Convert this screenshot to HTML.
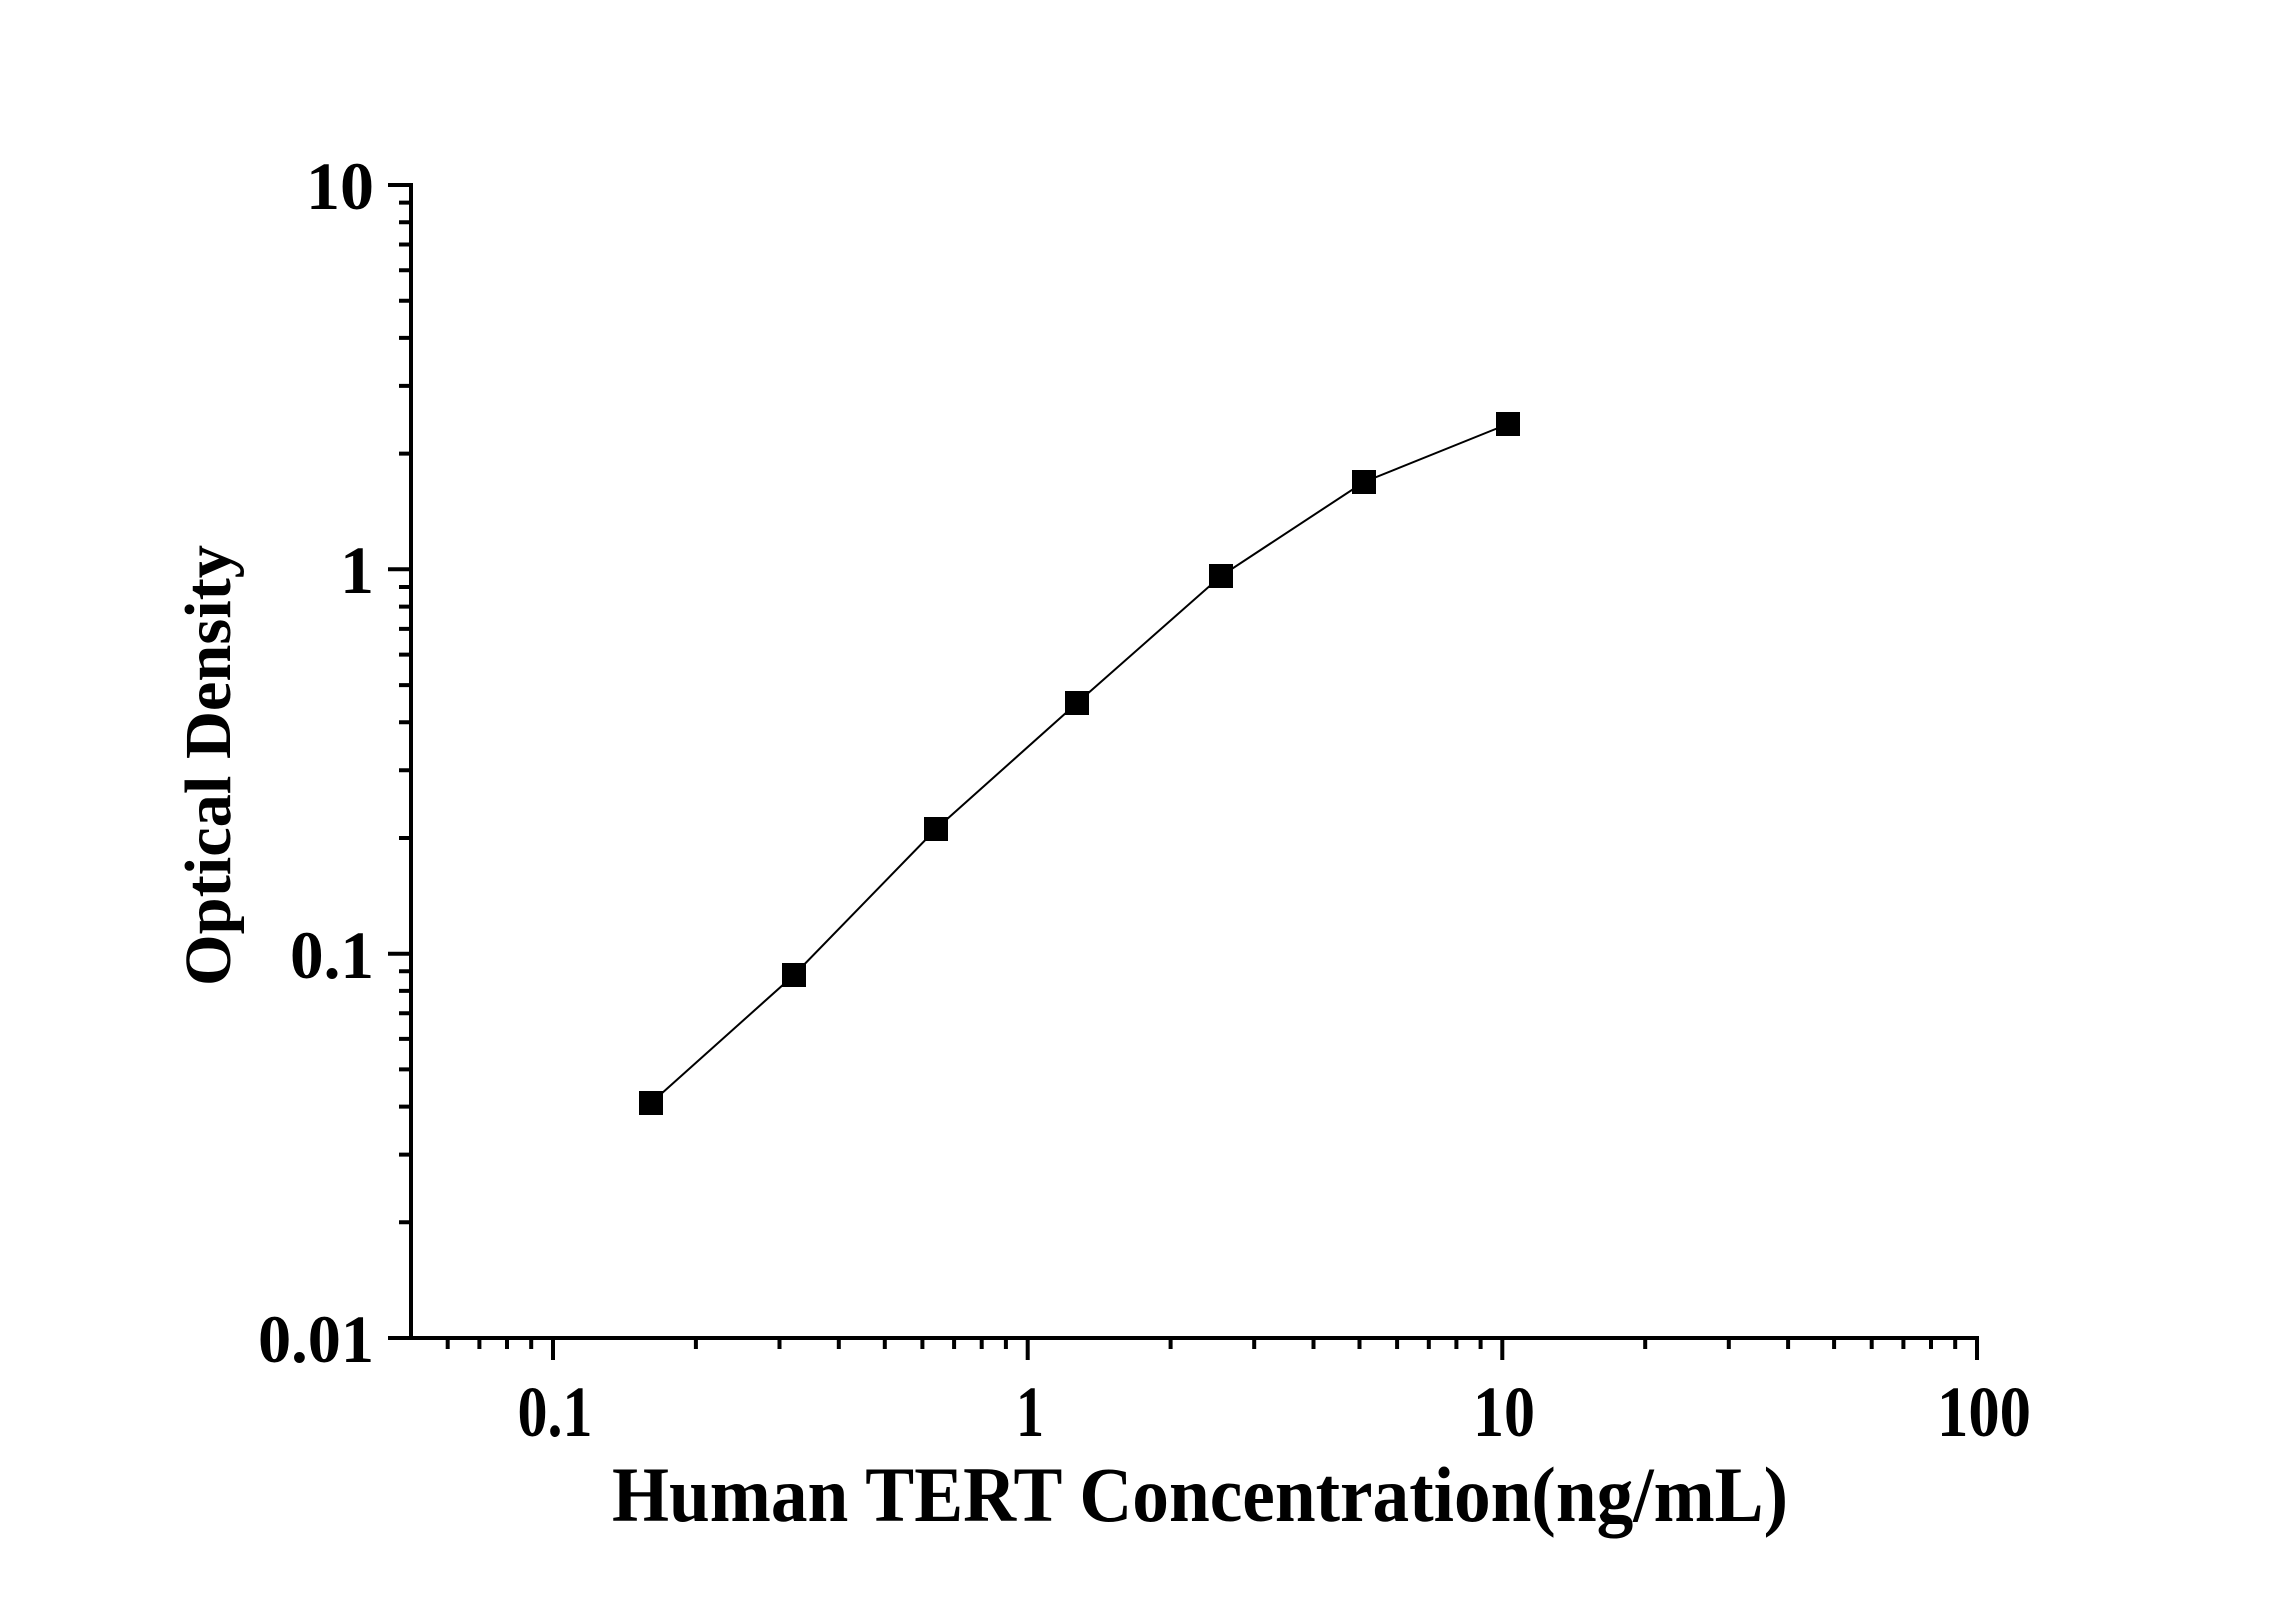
<!DOCTYPE html>
<html><head><meta charset="utf-8"><style>html,body{margin:0;padding:0;background:#fff;}svg{display:block;}</style></head>
<body>
<svg width="2296" height="1604" viewBox="0 0 2296 1604" xmlns="http://www.w3.org/2000/svg" font-family="Liberation Serif, serif" font-weight="bold">
<g stroke="#000" stroke-width="4" fill="none">
<line x1="411" y1="183" x2="411" y2="1340"/>
<line x1="409" y1="1338" x2="1979" y2="1338"/>
<path d="M553 1338V1360M1027.7 1338V1360M1502.3 1338V1360M1977 1338V1360"/>
<path d="M447.7 1338V1349M479.4 1338V1349M507 1338V1349M531.2 1338V1349
M695.9 1338V1349M779.5 1338V1349M838.8 1338V1349M884.8 1338V1349M922.4 1338V1349M954.1 1338V1349M981.7 1338V1349M1005.9 1338V1349
M1170.6 1338V1349M1254.2 1338V1349M1313.5 1338V1349M1359.5 1338V1349M1397.1 1338V1349M1428.8 1338V1349M1456.4 1338V1349M1480.6 1338V1349
M1645.2 1338V1349M1728.8 1338V1349M1788.1 1338V1349M1834.1 1338V1349M1871.7 1338V1349M1903.4 1338V1349M1931 1338V1349M1955.2 1338V1349"/>
<path d="M388 185H411M388 569.3H411M388 953.7H411M388 1338H411"/>
<path d="M399 453.6H411M399 385.9H411M399 337.9H411M399 300.7H411M399 270.2H411M399 244.5H411M399 222.2H411M399 202.6H411
M399 838H411M399 770.3H411M399 722.3H411M399 685.1H411M399 654.6H411M399 628.9H411M399 606.6H411M399 587H411
M399 1222.3H411M399 1154.6H411M399 1106.6H411M399 1069.4H411M399 1038.9H411M399 1013.2H411M399 990.9H411M399 971.3H411"/>
</g>
<g font-size="68" text-anchor="end" fill="#000">
<text x="374" y="209">10</text>
<text x="374" y="593">1</text>
<text x="374" y="978" textLength="84" lengthAdjust="spacingAndGlyphs">0.1</text>
<text x="374" y="1362" textLength="116" lengthAdjust="spacingAndGlyphs">0.01</text>
</g>
<g font-size="72" text-anchor="middle" fill="#000">
<text x="555" y="1436" textLength="75" lengthAdjust="spacingAndGlyphs">0.1</text>
<text x="1030" y="1436" textLength="28" lengthAdjust="spacingAndGlyphs">1</text>
<text x="1504" y="1436" textLength="62" lengthAdjust="spacingAndGlyphs">10</text>
<text x="1984" y="1436" textLength="94" lengthAdjust="spacingAndGlyphs">100</text>
</g>
<text x="612" y="1521" font-size="78" textLength="1176" lengthAdjust="spacingAndGlyphs" fill="#000">Human TERT Concentration(ng/mL)</text>
<text transform="translate(230,986) rotate(-90)" font-size="66" textLength="441" lengthAdjust="spacingAndGlyphs" fill="#000">Optical Density</text>
<polyline fill="none" stroke="#000" stroke-width="2" points="651,1103 794,975 936,829 1077,703 1221,576 1364,482 1508,424"/>
<g fill="#000">
<rect x="639" y="1091" width="24" height="24"/>
<rect x="782" y="963" width="24" height="24"/>
<rect x="924" y="817" width="24" height="24"/>
<rect x="1065" y="691" width="24" height="24"/>
<rect x="1209" y="564" width="24" height="24"/>
<rect x="1352" y="470" width="24" height="24"/>
<rect x="1496" y="412" width="24" height="24"/>
</g>
</svg>
</body></html>
